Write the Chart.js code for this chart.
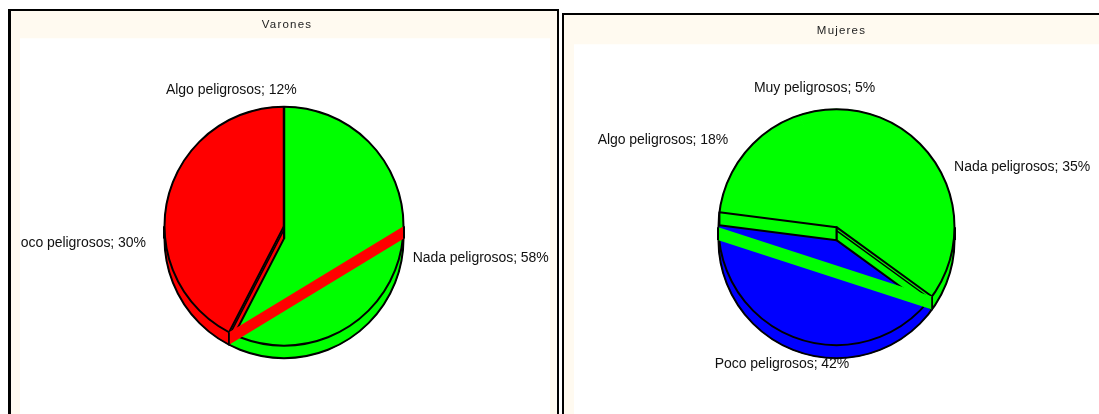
<!DOCTYPE html>
<html>
<head>
<meta charset="utf-8">
<script src="https://cdn.jsdelivr.net/npm/chart.js@4"></script>
<style>
html, body { margin: 0; padding: 0; background: #fff; overflow: hidden; }
.panel { position: absolute; box-sizing: border-box; border: 2px solid #000; border-bottom: 0; background: #fffaf0; }
#panelVarones { left: 8px; top: 9px; width: 551px; height: 405px; border-width: 2.5px 2px 0 3px; }
#panelMujeres { left: 562px; top: 13px; width: 537px; height: 401px; border-right: 0; }
canvas { display: block; }
</style>
</head>
<body>
<div class="panel" id="panelVarones"><canvas id="chartVarones"></canvas></div>
<div class="panel" id="panelMujeres"><canvas id="chartMujeres"></canvas></div>
<script>
const varonesLabels = ["Nada peligrosos", "Poco peligrosos", "Algo peligrosos"];
const varonesValues = [57.6, 30.3, 12.1];
const mujeresLabels = ["Nada peligrosos", "Poco peligrosos", "Algo peligrosos", "Muy peligrosos"];
const mujeresValues = [35, 42, 18, 5];

const GREEN = "#00ff00";
const RED = "#ff0000";
const BLUE = "#0000ff";
const varonesColors = [GREEN, RED, RED];
const mujeresColors = [GREEN, BLUE, GREEN, GREEN];

// gap between pie rim and label anchor, per slice, plus small hand nudges
const varonesGaps = [14, 20, 28];
const varonesNudges = [[-1, 0], [0, -3], [2, 1]];
const mujeresGaps = [14, 30, 20, 22];
const mujeresNudges = [[0, 0], [0, -1], [-2, 1], [0, -1]];

// rim point of a canvas angle
function rimPoint(arc, angle) {
    return { x: arc.x + arc.outerRadius * Math.cos(angle), y: arc.y + arc.outerRadius * Math.sin(angle) };
}

const fakePie3d = {
    id: "fakePie3d",
    beforeDraw(chart) {
        // letter spacing only for the title
        chart.ctx.save();
        chart.ctx.letterSpacing = "1.2px";
        chart.ctx.translate(chart.options.plugins.fakePie3d.titleShift, 0);
    },
    beforeDatasetsDraw(chart) {
        const ctx = chart.ctx;
        ctx.restore();
        const o = chart.options.plugins.fakePie3d;
        const area = chart.chartArea;
        ctx.fillStyle = "#fff";
        ctx.fillRect(area.left, area.top, o.whiteRight - area.left, chart.height - area.top);

        // lower copy of the pie
        const arcs = chart.getDatasetMeta(0).data;
        ctx.save();
        ctx.translate(0, o.depth);
        arcs.forEach(arc => arc.draw(ctx));
        ctx.restore();
    },
    afterDatasetsDraw(chart) {
        const ctx = chart.ctx;
        const o = chart.options.plugins.fakePie3d;
        const arcs = chart.getDatasetMeta(0).data;
        const first = arcs[0];
        const d = o.depth;

        ctx.save();
        ctx.strokeStyle = "#000";
        ctx.lineJoin = "round";
        ctx.lineWidth = 2;

        // rims
        ctx.beginPath();
        ctx.arc(first.x, first.y + d, first.outerRadius, 0, Math.PI);
        ctx.stroke();
        ctx.beginPath();
        ctx.arc(first.x, first.y, first.outerRadius, 0, Math.PI * 2);
        ctx.stroke();

        // plain radial lines
        o.radials.forEach(i => {
            const p = rimPoint(first, arcs[i].startAngle);
            ctx.beginPath();
            ctx.moveTo(first.x, first.y + d);
            ctx.lineTo(first.x, first.y);
            ctx.lineTo(p.x, p.y);
            ctx.lineWidth = 2.5;
            ctx.stroke();
            ctx.lineWidth = 2;
        });

        // side walls along slice edges
        o.walls.forEach((w, n) => {
            const p = rimPoint(first, arcs[w.slice].startAngle);
            ctx.beginPath();
            ctx.moveTo(first.x, first.y);
            ctx.lineTo(p.x, p.y);
            ctx.lineTo(p.x, p.y + d);
            ctx.lineTo(first.x, first.y + d);
            ctx.closePath();
            ctx.fillStyle = w.color;
            ctx.fill();
            ctx.stroke();
            if (n === 0) {
                ctx.beginPath();
                ctx.moveTo(first.x, first.y + 3.5);
                ctx.lineTo(p.x, p.y + 3.5);
                ctx.lineWidth = 1.5;
                ctx.stroke();
                ctx.lineWidth = 2;
            }
        });

        // the stray wall across the front of the pie
        const a = rimPoint(first, o.band.from);
        const b = rimPoint(first, arcs[o.band.slice].startAngle);
        ctx.beginPath();
        ctx.moveTo(a.x, a.y);
        ctx.lineTo(b.x, b.y);
        ctx.lineTo(b.x, b.y + d);
        ctx.lineTo(a.x, a.y + d);
        ctx.closePath();
        ctx.fillStyle = o.band.color;
        ctx.fill();
        ctx.lineWidth = 1.5;
        ctx.beginPath();
        ctx.moveTo(b.x, b.y);
        ctx.lineTo(b.x, b.y + d);
        ctx.stroke();

        // edges at both tangents
        ctx.lineWidth = 2;
        [-1, 1].forEach(side => {
            const x = first.x + side * (first.outerRadius + 0.5);
            ctx.beginPath();
            ctx.moveTo(x, first.y);
            ctx.lineTo(x, first.y + d);
            ctx.stroke();
        });
        ctx.restore();

        // labels, clipped to the white plot area
        ctx.save();
        ctx.beginPath();
        ctx.rect(chart.chartArea.left, chart.chartArea.top, chart.width, chart.height);
        ctx.clip();
        ctx.font = '14px "Liberation Sans", Arial, sans-serif';
        ctx.letterSpacing = "-0.05px";
        ctx.fillStyle = "#111";
        ctx.textBaseline = "middle";
        const labels = chart.data.labels;
        const values = chart.data.datasets[0].data;
        arcs.forEach((arc, i) => {
            const mid = (arc.startAngle + arc.endAngle) / 2;
            const r = arc.outerRadius + o.gaps[i];
            const sx = Math.cos(mid);
            ctx.textAlign = Math.abs(sx) > 0.6 ? (sx > 0 ? "left" : "right") : "center";
            ctx.fillText(`${labels[i]}; ${Math.round(values[i])}%`,
                arc.x + r * sx + o.nudges[i][0], arc.y + r * Math.sin(mid) + o.nudges[i][1]);
        });
        ctx.restore();
    }
};

function makePie(canvasId, title, labels, values, colors, extra) {
    const canvas = document.getElementById(canvasId);
    canvas.width = extra.width;
    canvas.height = extra.height;
    canvas.style.width = extra.width + "px";
    canvas.style.height = extra.height + "px";
    return new Chart(canvas, {
        type: "pie",
        data: {
            labels: labels,
            datasets: [{
                data: values,
                backgroundColor: colors,
                borderColor: colors,
                borderWidth: 1,
                radius: extra.radius
            }]
        },
        options: {
            responsive: false,
            animation: false,
            layout: { padding: extra.padding },
            plugins: {
                legend: { display: false },
                tooltip: { enabled: false },
                title: {
                    display: true,
                    text: title,
                    color: "#222",
                    font: { family: '"Liberation Sans", Arial, sans-serif', size: 11.5, weight: "normal", lineHeight: 1.2 },
                    padding: extra.titlePadding
                },
                fakePie3d: extra.pie3d
            }
        },
        plugins: [fakePie3d]
    });
}

makePie("chartVarones", "Varones", varonesLabels, varonesValues, varonesColors, {
    width: 546, height: 403, radius: 119.5,
    padding: { left: 9, right: 9, top: 0, bottom: 0 },
    titlePadding: { top: 6.7, bottom: 6.8 },
    pie3d: {
        depth: 12.5, gaps: varonesGaps, nudges: varonesNudges, whiteRight: 539, titleShift: 3,
        radials: [0],
        walls: [{ slice: 1, color: RED }],
        band: { from: 0, slice: 1, color: RED }
    }
});

makePie("chartMujeres", "Mujeres", mujeresLabels, mujeresValues, mujeresColors, {
    width: 535, height: 399, radius: 118,
    padding: { left: 10, right: 0, top: 0, bottom: 4 },
    titlePadding: { top: 8.7, bottom: 6.8 },
    pie3d: {
        depth: 13, gaps: mujeresGaps, nudges: mujeresNudges, whiteRight: 535, titleShift: 5,
        radials: [],
        walls: [{ slice: 1, color: GREEN }, { slice: 2, color: GREEN }],
        band: { from: Math.PI, slice: 1, color: GREEN }
    }
});
</script>
</body>
</html>
